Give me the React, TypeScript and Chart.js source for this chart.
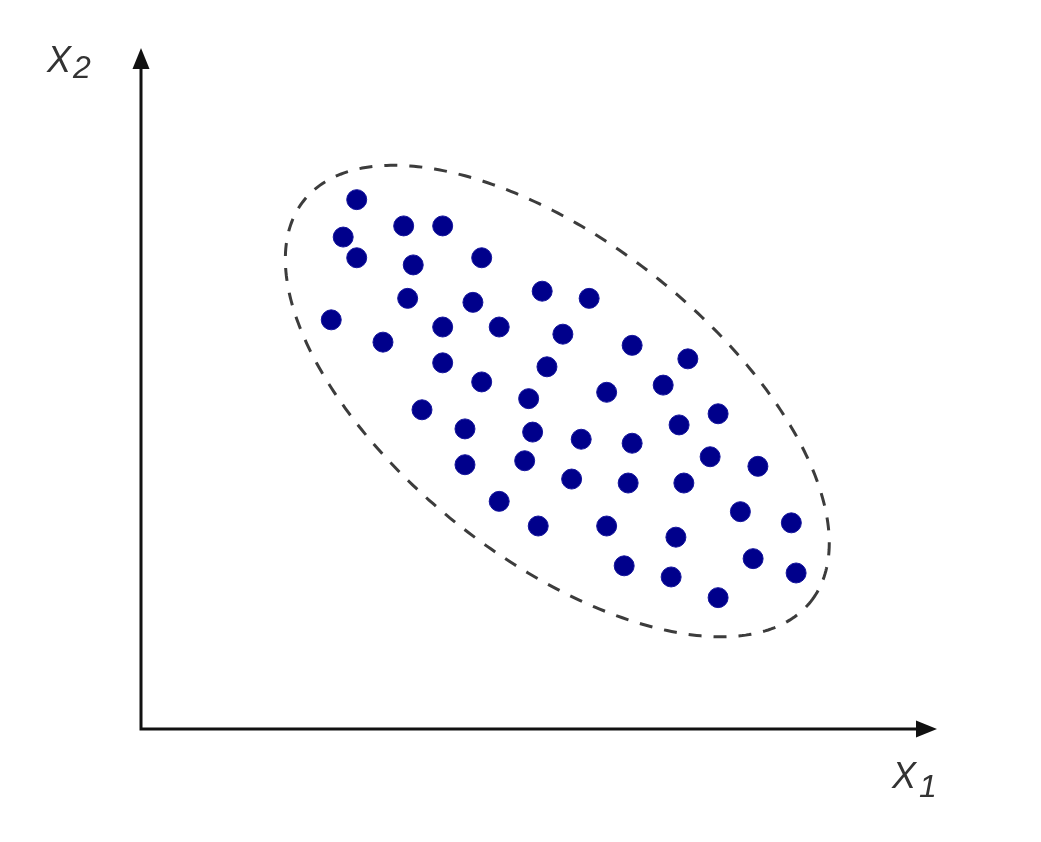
import React, { useEffect, useRef } from "react";
import { Chart, registerables } from "chart.js";

Chart.register(...registerables);

// Scatter data (x1, x2)
const x1Values = [
  2.71, 3.30, 3.79, 2.54, 2.71, 3.42, 4.28, 3.35, 4.17, 5.04,
  5.63, 2.39, 3.79, 4.50, 5.30, 3.04, 6.17, 6.87, 3.79, 5.10,
  4.28, 6.56, 5.85, 4.87, 3.53, 7.25, 6.76, 4.07, 4.92, 5.53,
  6.17, 4.07, 4.82, 7.15, 7.75, 5.41, 6.12, 6.82, 4.50, 7.53,
  8.17, 4.99, 5.85, 6.72, 7.69, 6.07, 6.66, 8.23, 7.25,
];
const x2Values = [
  6.65, 6.32, 6.32, 6.18, 5.92, 5.83, 5.92, 5.41, 5.36, 5.50,
  5.41, 5.14, 5.05, 5.05, 4.96, 4.86, 4.82, 4.65, 4.60, 4.55,
  4.36, 4.32, 4.23, 4.15, 4.01, 3.96, 3.82, 3.77, 3.73, 3.64,
  3.59, 3.32, 3.37, 3.42, 3.30, 3.14, 3.09, 3.09, 2.86, 2.73,
  2.59, 2.55, 2.55, 2.41, 2.14, 2.05, 1.91, 1.96, 1.65,
];

// Axis ranges
const xRange = [0, 10];
const yRange = [0, 8.555];

// Dashed ellipse enclosing the points (data units)
const ellipseCenter = [5.23, 4.12];
const ellipseRadii = [4.06, 1.99];
const ellipseAngleDeg = -38.3;

// Axis labels: [main letter, subscript]
const xAxisLabel = ["X", "1"];
const yAxisLabel = ["X", "2"];

export default function App() {
  const canvasRef = useRef<HTMLCanvasElement | null>(null);

  useEffect(() => {
    document.body.style.margin = "0";
    document.body.style.background = "#ffffff";
    const canvas = canvasRef.current;
    if (!canvas) return;

    const overlay = {
      id: "overlay",
      beforeDatasetsDraw(chart: any) {
        const { ctx } = chart;
        const xs = chart.scales.x;
        const ys = chart.scales.y;

        // Ellipse
        const th = (ellipseAngleDeg * Math.PI) / 180;
        ctx.save();
        ctx.beginPath();
        for (let i = 0; i <= 360; i++) {
          const t = (i * Math.PI) / 180;
          const dx = ellipseRadii[0] * Math.cos(t);
          const dy = ellipseRadii[1] * Math.sin(t);
          const vx = ellipseCenter[0] + dx * Math.cos(th) - dy * Math.sin(th);
          const vy = ellipseCenter[1] + dx * Math.sin(th) + dy * Math.cos(th);
          const px = xs.getPixelForValue(vx);
          const py = ys.getPixelForValue(vy);
          if (i === 0) ctx.moveTo(px, py);
          else ctx.lineTo(px, py);
        }
        ctx.closePath();
        ctx.setLineDash([13, 12]);
        ctx.lineWidth = 3;
        ctx.strokeStyle = "#3c3c3c";
        ctx.stroke();
        ctx.restore();

        // Axes with arrows
        const ox = xs.getPixelForValue(xRange[0]);
        const oy = ys.getPixelForValue(yRange[0]);
        const xEnd = xs.getPixelForValue(xRange[1]);
        const yEnd = ys.getPixelForValue(yRange[1]);
        const headLen = 21;
        const headHalf = 8.5;
        ctx.save();
        ctx.strokeStyle = "#111111";
        ctx.fillStyle = "#111111";
        ctx.lineWidth = 3;
        ctx.lineCap = "butt";
        ctx.beginPath();
        ctx.moveTo(ox, yEnd + headLen - 2);
        ctx.lineTo(ox, oy);
        ctx.lineTo(xEnd - headLen + 2, oy);
        ctx.stroke();
        // y arrow
        ctx.beginPath();
        ctx.moveTo(ox, yEnd);
        ctx.lineTo(ox - headHalf, yEnd + headLen);
        ctx.lineTo(ox + headHalf, yEnd + headLen);
        ctx.closePath();
        ctx.fill();
        // x arrow
        ctx.beginPath();
        ctx.moveTo(xEnd, oy);
        ctx.lineTo(xEnd - headLen, oy - headHalf);
        ctx.lineTo(xEnd - headLen, oy + headHalf);
        ctx.closePath();
        ctx.fill();

        // Labels
        ctx.fillStyle = "#333333";
        ctx.textAlign = "left";
        ctx.textBaseline = "alphabetic";
        ctx.font = 'italic 36px "Liberation Sans", Arial, sans-serif';
        ctx.fillText(yAxisLabel[0], ox - 94, yEnd + 24);
        ctx.fillText(xAxisLabel[0], xEnd - 45, oy + 59);
        ctx.font = 'italic 32px "Liberation Sans", Arial, sans-serif';
        ctx.fillText(yAxisLabel[1], ox - 68, yEnd + 30);
        ctx.fillText(xAxisLabel[1], xEnd - 18, oy + 68);
        ctx.restore();
      },
    };

    const chart = new Chart(canvas, {
      type: "scatter",
      data: {
        datasets: [
          {
            data: x1Values.map((v, i) => ({ x: v, y: x2Values[i] })),
            backgroundColor: "#00008b",
            borderColor: "#14149c",
            borderWidth: 1,
            pointRadius: 10,
            pointHoverRadius: 10,
          },
        ],
      },
      options: {
        responsive: false,
        animation: false,
        layout: { padding: { left: 141, right: 104, top: 48, bottom: 113 } },
        plugins: {
          legend: { display: false },
          tooltip: { enabled: false },
        },
        scales: {
          x: { type: "linear", min: xRange[0], max: xRange[1], display: false },
          y: { type: "linear", min: yRange[0], max: yRange[1], display: false },
        },
      },
      plugins: [overlay],
    });

    return () => chart.destroy();
  }, []);

  return (
    <div style={{ width: 1041, height: 842, background: "#ffffff" }}>
      <canvas ref={canvasRef} width={1041} height={842} style={{ display: "block" }} />
    </div>
  );
}
